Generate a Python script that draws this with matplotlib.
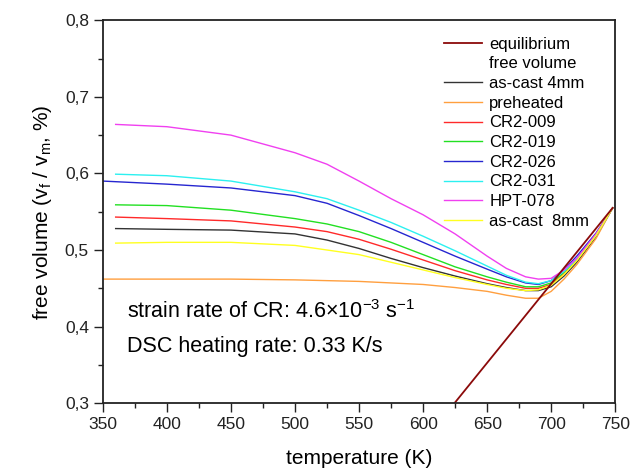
import matplotlib
matplotlib.use('Agg')
import matplotlib.pyplot as plt
from matplotlib.lines import Line2D
from matplotlib.ticker import MultipleLocator, FuncFormatter

plt.rcParams['font.family'] = ['Liberation Sans', 'DejaVu Sans']
plt.rcParams['mathtext.fontset'] = 'custom'
plt.rcParams['mathtext.rm'] = 'Liberation Sans'
plt.rcParams['mathtext.it'] = 'Liberation Sans'

# temperature grid (K)
T = [360, 400, 450, 500, 525, 550, 575, 600, 625, 650, 665, 680, 690, 700, 710, 720, 735, 748]
T_blue = [350] + T[1:]
T_orange = [350, 400, 450, 500, 550, 600, 625, 650, 665, 680, 690, 700, 710, 720, 735, 748]

# equilibrium free volume (straight line)
T_eq = [624.5, 748]
v_eq = [0.300, 0.555]

v_ascast4 = [0.528, 0.527, 0.526, 0.521, 0.513, 0.502, 0.489, 0.477, 0.466, 0.456, 0.451, 0.447, 0.447, 0.452, 0.466, 0.484, 0.517, 0.555]
v_preheat = [0.462, 0.462, 0.462, 0.461, 0.459, 0.455, 0.451, 0.446, 0.441, 0.437, 0.437, 0.446, 0.462, 0.481, 0.515, 0.555]
v_cr009 = [0.543, 0.541, 0.538, 0.530, 0.524, 0.514, 0.501, 0.487, 0.473, 0.461, 0.455, 0.450, 0.450, 0.455, 0.469, 0.487, 0.519, 0.555]
v_cr019 = [0.559, 0.558, 0.552, 0.541, 0.534, 0.524, 0.510, 0.494, 0.478, 0.465, 0.458, 0.452, 0.452, 0.457, 0.471, 0.488, 0.520, 0.555]
v_cr026 = [0.590, 0.586, 0.581, 0.571, 0.561, 0.545, 0.528, 0.510, 0.492, 0.475, 0.465, 0.457, 0.455, 0.460, 0.474, 0.492, 0.522, 0.555]
v_cr031 = [0.599, 0.597, 0.590, 0.576, 0.567, 0.552, 0.536, 0.518, 0.499, 0.479, 0.467, 0.458, 0.456, 0.460, 0.472, 0.488, 0.519, 0.555]
v_hpt078 = [0.664, 0.661, 0.650, 0.627, 0.612, 0.590, 0.567, 0.546, 0.521, 0.492, 0.476, 0.465, 0.462, 0.463, 0.474, 0.489, 0.521, 0.555]
v_ascast8 = [0.509, 0.510, 0.510, 0.506, 0.500, 0.494, 0.484, 0.474, 0.464, 0.455, 0.450, 0.447, 0.448, 0.454, 0.468, 0.486, 0.519, 0.555]

fig = plt.figure(figsize=(6.31, 4.71), dpi=100)
ax = fig.add_axes([0.163, 0.144, 0.812, 0.813])

lw = 1.0
ax.plot(T, v_ascast4, color='#333333', lw=lw)
ax.plot(T_orange, v_preheat, color='#ff9f3f', lw=lw)
ax.plot(T, v_cr009, color='#ff2a2a', lw=lw)
ax.plot(T, v_cr019, color='#22e022', lw=lw)
ax.plot(T_blue, v_cr026, color='#2626d0', lw=lw)
ax.plot(T, v_cr031, color='#2cf0f0', lw=lw)
ax.plot(T, v_hpt078, color='#f040f0', lw=lw)
ax.plot(T, v_ascast8, color='#ffff20', lw=lw)
ax.plot(T_eq, v_eq, color='#8b0a0a', lw=1.3)

handles = [
    Line2D([], [], color='#8b0a0a', lw=1.3),
    Line2D([], [], color='none'),
    Line2D([], [], color='#333333', lw=lw),
    Line2D([], [], color='#ff9f3f', lw=lw),
    Line2D([], [], color='#ff2a2a', lw=lw),
    Line2D([], [], color='#22e022', lw=lw),
    Line2D([], [], color='#2626d0', lw=lw),
    Line2D([], [], color='#2cf0f0', lw=lw),
    Line2D([], [], color='#f040f0', lw=lw),
    Line2D([], [], color='#ffff20', lw=lw),
]
labels = ['equilibrium', 'free volume', 'as-cast 4mm', 'preheated', 'CR2-009',
          'CR2-019', 'CR2-026', 'CR2-031', 'HPT-078', 'as-cast  8mm']
ax.legend(handles, labels, loc='upper left', frameon=False, fontsize=12,
          handlelength=2.3, handletextpad=0.45, labelspacing=0.28,
          borderpad=0, borderaxespad=0, bbox_to_anchor=(0.665, 0.957))

ax.text(0.048, 0.238, r'strain rate of CR: 4.6$\times$10$^{-3}$ s$^{-1}$',
        transform=ax.transAxes, fontsize=15.5, va='center')
ax.text(0.048, 0.147, 'DSC heating rate: 0.33 K/s',
        transform=ax.transAxes, fontsize=15.5, va='center')

ax.set_xlim(350, 750)
ax.set_ylim(0.3, 0.8)
ax.xaxis.set_major_locator(MultipleLocator(50))
ax.xaxis.set_minor_locator(MultipleLocator(25))
ax.yaxis.set_major_locator(MultipleLocator(0.1))
ax.yaxis.set_minor_locator(MultipleLocator(0.05))
ax.yaxis.set_major_formatter(FuncFormatter(lambda v, p: f'{v:.1f}'.replace('.', ',')))

ax.tick_params(which='major', direction='out', length=6.5, width=1.0, labelsize=12.5,
               top=False, right=False, colors='#222222')
ax.tick_params(which='minor', direction='out', length=3.5, width=1.0,
               top=False, right=False, colors='#222222')
for s in ax.spines.values():
    s.set_linewidth(1.3)
    s.set_color('#222222')

ax.set_xlabel('temperature (K)', fontsize=15, labelpad=12)
ax.set_ylabel(r'free volume (v$_\mathrm{f}$ / v$_\mathrm{m}$, %)', fontsize=15, labelpad=8)

fig.savefig('out.png', dpi=100)
